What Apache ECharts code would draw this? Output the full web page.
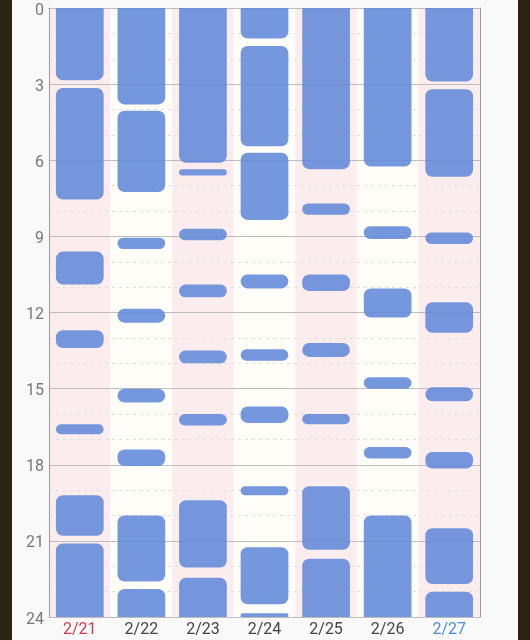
<!DOCTYPE html>
<html>
<head>
<meta charset="utf-8">
<script src="https://cdn.jsdelivr.net/npm/echarts@6/dist/echarts.min.js"></script>
<style>
html,body{margin:0;padding:0;background:#2b2411;width:530px;height:640px;overflow:hidden;}
#bg{position:absolute;left:12px;top:0;width:506px;height:640px;background:#f9f9fa;}
#chart{position:absolute;left:0;top:0;width:530px;height:640px;}
</style>
</head>
<body>
<div id="bg"></div>
<div id="chart"></div>
<script>
var days = ['2/21', '2/22', '2/23', '2/24', '2/25', '2/26', '2/27'];
var yTicks = [0, 3, 6, 9, 12, 15, 18, 21, 24];
var seg0221 = [[0,2.85],[3.15,7.55],[9.6,10.9],[12.7,13.4],[16.4,16.8],[19.2,20.8],[21.1,24]];
var seg0222 = [[0,3.8],[4.05,7.25],[9.05,9.5],[11.85,12.4],[15.0,15.55],[17.4,18.05],[20.0,22.6],[22.9,24]];
var seg0223 = [[0,6.1],[6.35,6.6],[8.7,9.15],[10.9,11.4],[13.5,14.0],[16.0,16.45],[19.4,22.05],[22.45,24]];
var seg0224 = [[0,1.2],[1.5,5.45],[5.7,8.35],[10.5,11.05],[13.45,13.9],[15.7,16.35],[18.85,19.2],[21.25,23.5],[23.85,24]];
var seg0225 = [[0,6.35],[7.7,8.15],[10.5,11.15],[13.2,13.75],[16.0,16.4],[18.85,21.35],[21.7,24]];
var seg0226 = [[0,6.25],[8.6,9.1],[11.05,12.2],[14.55,15.0],[17.3,17.75],[20.0,24]];
var seg0227 = [[0,2.9],[3.2,6.65],[8.85,9.3],[11.6,12.8],[14.95,15.5],[17.5,18.15],[20.5,22.7],[23.0,24]];

var allSegs = [seg0221, seg0222, seg0223, seg0224, seg0225, seg0226, seg0227];
var data = [];
allSegs.forEach(function (list, i) {
  list.forEach(function (s) { data.push([i, s[0], s[1]]); });
});

var chart = echarts.init(document.getElementById('chart'));
chart.setOption({
  animation: false,
  grid: { left: 49, right: 50, top: 8, bottom: 23 },
  xAxis: {
    type: 'category',
    z: 0,
    data: days,
    boundaryGap: true,
    axisLine: { show: true, lineStyle: { color: '#9a9a9a', width: 1 } },
    axisTick: { show: false },
    axisLabel: {
      fontSize: 16,
      margin: 5,
      fontFamily: 'Roboto',
      color: function (v, i) {
        if (v === '2/21') return '#d6394f';
        if (v === '2/27') return '#4a8ee0';
        return '#444';
      }
    },
    splitLine: { show: false },
    splitArea: { show: true, areaStyle: { color: ['#fbeded', '#fffdf8'] } }
  },
  yAxis: [{
    type: 'value',
    z: 1,
    inverse: true,
    min: 0, max: 24, interval: 3,
    axisLine: { show: true, lineStyle: { color: '#9a9a9a', width: 1 } },
    axisTick: { show: false },
    axisLabel: {
      margin: 5,
      formatter: function (v) { return '{t|' + v + '}'; },
      rich: { t: { fontSize: 16, color: '#777', fontFamily: 'Roboto', padding: [5, 0, 0, 0] } }
    },
    splitLine: { show: true, lineStyle: { color: '#bdbdbd', width: 1 } },
    minorTick: { show: false, splitNumber: 3 },
    minorSplitLine: { show: true, lineStyle: { color: '#dedede', type: [3, 4], width: 1 } }
  }, {
    type: 'value',
    z: 1,
    inverse: true,
    position: 'right',
    min: 0, max: 24, interval: 3,
    axisLine: { show: true, lineStyle: { color: '#9a9a9a', width: 1 } },
    axisTick: { show: false },
    axisLabel: { show: false },
    splitLine: { show: false }
  }],
  series: [{
    type: 'custom',
    z: 2,
    clip: true,
    data: data,
    encode: { x: 0, y: [1, 2] },
    renderItem: function (params, api) {
      var idx = api.value(0);
      var s = api.value(1), e = api.value(2);
      var p1 = api.coord([idx, s]);
      var p2 = api.coord([idx, e]);
      var w = api.size([1, 0])[0] * 0.775;
      var h = p2[1] - p1[1];
      var r = Math.min(7, h / 2);
      var rt = s <= 0 ? 0 : r;
      var rb = e >= 24 ? 0 : r;
      return {
        type: 'rect',
        shape: { x: p1[0] - w / 2, y: p1[1], width: w, height: h, r: [rt, rt, rb, rb] },
        style: { fill: '#6289da', opacity: 0.88 }
      };
    }
  }]
});
</script>
</body>
</html>
